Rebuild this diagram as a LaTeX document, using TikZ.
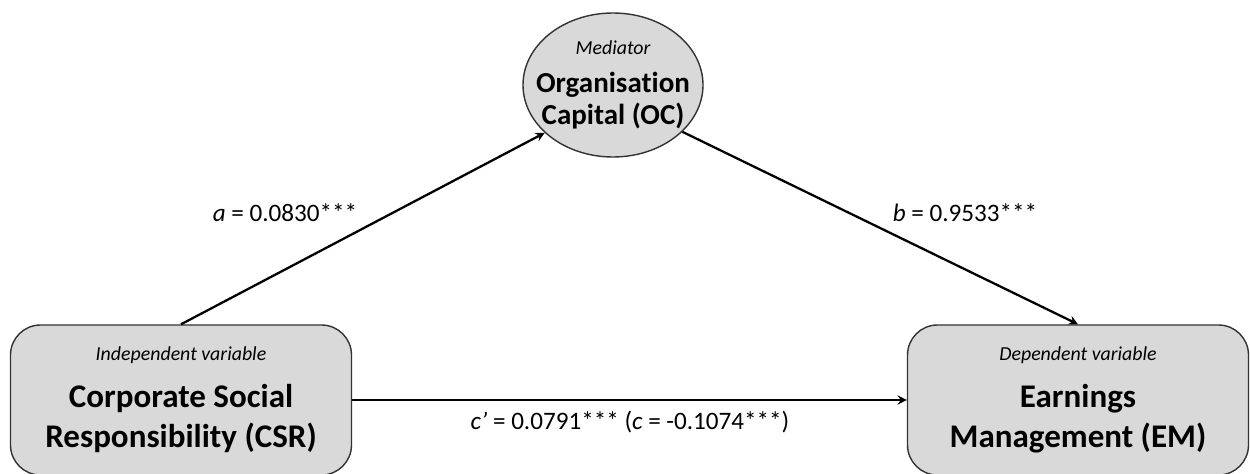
\documentclass[tikz,border=0pt]{standalone}
\usepackage{fontspec}
\setmainfont[Ligatures=NoCommon]{Carlito}
\usetikzlibrary{shapes,positioning}

\newcommand{\role}[1]{{\fontsize{11.3}{13}\selectfont\itshape #1}}

\begin{document}
\begin{tikzpicture}[>=stealth]
\tikzstyle{every node}=[font=\fontsize{14.3}{16}\selectfont]
\tikzstyle{var}=[draw=black!80, fill=black!15, rounded corners=0.6cm, line width=0.8pt, minimum width=6.82cm, minimum height=3cm, align=center, font=\fontsize{18.8}{22.7}\selectfont]
\tikzstyle{med}=[draw=black!80, fill=black!15, ellipse, line width=0.8pt, minimum width=3.6cm, minimum height=2.88cm, inner xsep=-0.32cm, inner ysep=-0.05cm, align=center, font=\fontsize{16.5}{18.5}\selectfont]
\tikzstyle{path}=[->, line width=1.3pt]

\useasboundingbox (0,0) rectangle (25,9.46);

% Independent variable
\node[var] (csr) at (3.62,1.46) {\role{Independent variable}\\[4pt] \textbf{Corporate Social}\\ \textbf{Responsibility (CSR)}};
% Dependent variable
\node[var] (em) at (21.56,1.46) {\role{Dependent variable}\\[4pt] \textbf{Earnings}\\ \textbf{Management (EM)}};
% Mediator
\node[med] (oc) at (12.26,7.76) {\role{Mediator}\\[3pt] \textbf{Organisation}\\ \textbf{Capital (OC)}};

% Paths
\draw[path] (csr.north) -- (oc.215);
\draw[path] (oc.-34) -- (em.north);
\draw[path] (csr.east) -- (em.west);

% Coefficients
\node (a) at (5.7,5.2) {\textit{a} = 0.0830***};
\node (b) at (19.3,5.2) {\textit{b} = 0.9533***};
\node (c) at (12.6,1.02) {\textit{c’} = 0.0791*** (\textit{c} = -0.1074***)};
\end{tikzpicture}
\end{document}
